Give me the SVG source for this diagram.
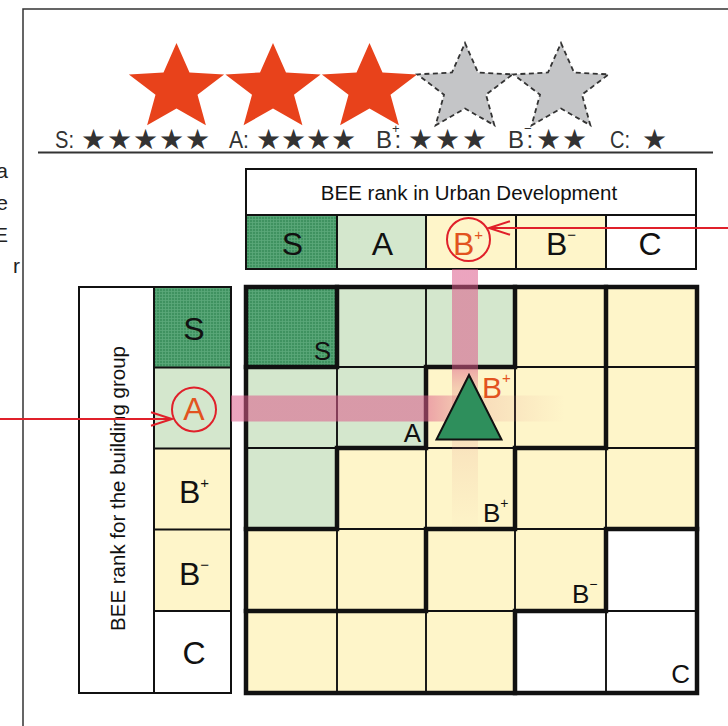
<svg xmlns="http://www.w3.org/2000/svg" width="728" height="726" viewBox="0 0 728 726">
<defs>
<style>
.f{font-family:"Liberation Sans",Arial,sans-serif}
.sym{font-family:"DejaVu Sans",sans-serif}
.dg{fill:url(#tex)}
.lg{fill:#d4e7cd}
.ye{fill:#fef5c9}
.wh{fill:#ffffff}
.cellline{stroke:#111;stroke-width:1.9;fill:none}
.thick{stroke:#111;stroke-width:4.5;fill:none;stroke-linecap:square;stroke-linejoin:miter}
.red{stroke:#e0202a;stroke-width:2;fill:none}
.rank{font-size:32px;fill:#111;text-anchor:middle}
.lbl{font-size:26px;fill:#111}
.leg{font-size:24px;fill:#333}
.legstar{font-size:28px;fill:#333}
.frag{font-size:21px;fill:#222;text-anchor:end}
</style>
<pattern id="tex" width="3" height="3" patternUnits="userSpaceOnUse">
<rect width="3" height="3" fill="#3f9260"/>
<rect width="3" height="0.8" fill="#5ba97a"/>
<rect width="0.8" height="3" fill="#5ba97a"/>
</pattern>
<polygon id="star" points="0,-45.5 13,-16 47.6,-14.1 21,6.2 29.4,36.8 0,20 -29.4,36.8 -21,6.2 -47.6,-14.1 -13,-16"/>
<linearGradient id="hband" gradientUnits="userSpaceOnUse" x1="231" y1="0" x2="565" y2="0">
<stop offset="0" stop-color="#dc5a8a" stop-opacity="0.55"/>
<stop offset="0.58" stop-color="#dc5a8a" stop-opacity="0.55"/>
<stop offset="0.75" stop-color="#e07a80" stop-opacity="0.2"/>
<stop offset="1" stop-color="#e08a80" stop-opacity="0"/>
</linearGradient>
<linearGradient id="vband" gradientUnits="userSpaceOnUse" x1="0" y1="269" x2="0" y2="535">
<stop offset="0" stop-color="#dc5a8a" stop-opacity="0.55"/>
<stop offset="0.36" stop-color="#dc5a8a" stop-opacity="0.55"/>
<stop offset="0.45" stop-color="#e07a80" stop-opacity="0.32"/>
<stop offset="0.7" stop-color="#e08a80" stop-opacity="0.14"/>
<stop offset="1" stop-color="#e08a80" stop-opacity="0"/>
</linearGradient>
<marker id="chev" markerUnits="userSpaceOnUse" markerWidth="30" markerHeight="20" viewBox="-25 -10 30 20" refX="0" refY="0" orient="auto" overflow="visible">
<path d="M-21,-6.7 L0,0 L-21,6.7" fill="none" stroke="#e0202a" stroke-width="2"/>
</marker>
</defs>

<rect width="728" height="726" fill="#ffffff"/>

<g id="frame">
<path d="M23,726 V9 H728" fill="none" stroke="#333" stroke-width="1.5"/>
</g>

<g id="side-fragments" class="f">
<text class="frag" x="8" y="178">a</text>
<text class="frag" x="8" y="210">e</text>
<text class="frag" x="8" y="242">E</text>
<text class="frag" x="20" y="273">r</text>
</g>

<g id="big-stars">
<use href="#star" x="176.5" y="88.5" fill="#e8421b"/>
<use href="#star" x="273" y="88.5" fill="#e8421b"/>
<use href="#star" x="369.5" y="88.5" fill="#e8421b"/>
<use href="#star" x="465" y="88.5" fill="#c4c5c7" stroke="#333" stroke-width="1.8" stroke-dasharray="5 3.5"/>
<use href="#star" x="561" y="88.5" fill="#c4c5c7" stroke="#333" stroke-width="1.8" stroke-dasharray="5 3.5"/>
</g>

<g id="legend">
<text class="f leg" x="55" y="148" textLength="19" lengthAdjust="spacingAndGlyphs">S:</text>
<text class="sym legstar" x="81 107 133 159 185" y="149">★★★★★</text>
<text class="f leg" x="229" y="148" textLength="20" lengthAdjust="spacingAndGlyphs">A:</text>
<text class="sym legstar" x="256 281 306 331" y="149">★★★★</text>
<text class="f leg" x="376" y="148">B<tspan font-size="13" dy="-15">+</tspan><tspan dx="-5" dy="15">:</tspan></text>
<text class="sym legstar" x="408 435 462" y="149">★★★</text>
<text class="f leg" x="508" y="148">B<tspan font-size="13" dy="-15">−</tspan><tspan dx="-5" dy="15">:</tspan></text>
<text class="sym legstar" x="536 562" y="149">★★</text>
<text class="f leg" x="610" y="148" textLength="20" lengthAdjust="spacingAndGlyphs">C:</text>
<text class="sym legstar" x="642" y="149">★</text>
<line x1="38" y1="152.5" x2="713" y2="152.5" stroke="#333" stroke-width="2"/>
</g>

<g id="header-urban">
<rect x="246" y="169" width="450" height="100" fill="#fff" stroke="#111" stroke-width="2"/>
<text class="f" x="469" y="200" font-size="20.5" text-anchor="middle" fill="#111">BEE rank in Urban Development</text>
<rect class="dg" x="247" y="215" width="90" height="54"/>
<rect class="lg" x="337" y="215" width="89" height="54"/>
<rect class="ye" x="426" y="215" width="90" height="54"/>
<rect class="ye" x="516" y="215" width="90" height="54"/>
<path d="M246,215 H696 M337,215 V269 M426,215 V269 M516,215 V269 M606,215 V269" stroke="#111" stroke-width="2" fill="none"/>
<rect x="246" y="169" width="450" height="100" fill="none" stroke="#111" stroke-width="2"/>
</g>
<g id="header-S"><text class="f rank" x="292.5" y="255">S</text></g>
<g id="header-A"><text class="f rank" x="382.5" y="255">A</text></g>
<g id="header-Bplus"><text class="f rank" x="468" y="255" style="fill:#e2531f">B<tspan font-size="15" dy="-15">+</tspan></text></g>
<g id="header-Bminus"><text class="f rank" x="561" y="255">B<tspan font-size="15" dy="-15">−</tspan></text></g>
<g id="header-C"><text class="f rank" x="650" y="255">C</text></g>

<g id="side-building">
<rect x="79" y="287" width="75" height="406" fill="#fff" stroke="#111" stroke-width="2"/>
<text class="f" transform="translate(125,488.5) rotate(-90)" font-size="20.5" text-anchor="middle" fill="#111">BEE rank for the building group</text>
<rect class="dg" x="154" y="287" width="77" height="80.5"/>
<rect class="lg" x="154" y="367.5" width="77" height="81"/>
<rect class="ye" x="154" y="448.5" width="77" height="81"/>
<rect class="ye" x="154" y="529.5" width="77" height="81.5"/>
<rect class="wh" x="154" y="611" width="77" height="82"/>
<path d="M154,367.5 H231 M154,448.5 H231 M154,529.5 H231 M154,611 H231" stroke="#111" stroke-width="2" fill="none"/>
<rect x="154" y="287" width="77" height="406" fill="none" stroke="#111" stroke-width="2"/>
</g>
<g id="side-S"><text class="f rank" x="194" y="340">S</text></g>
<g id="side-A"><text class="f rank" x="194" y="420" style="fill:#e2531f">A</text></g>
<g id="side-Bplus"><text class="f rank" x="194" y="503">B<tspan font-size="15" dy="-15">+</tspan></text></g>
<g id="side-Bminus"><text class="f rank" x="194" y="585">B<tspan font-size="15" dy="-15">−</tspan></text></g>
<g id="side-C"><text class="f rank" x="194" y="664">C</text></g>

<g id="matrix">
<rect class="ye" x="246" y="287" width="451" height="406"/>
<rect class="dg" x="246" y="287" width="91" height="80"/>
<rect class="lg" x="337" y="287" width="178" height="80"/>
<rect class="lg" x="246" y="367" width="180" height="81"/>
<rect class="lg" x="246" y="448" width="91" height="81"/>
<rect class="wh" x="606" y="529" width="91" height="82"/>
<rect class="wh" x="515" y="611" width="182" height="82"/>
<path class="cellline" d="M337,287 V693 M426,287 V693 M515,287 V693 M606,287 V693 M246,367 H697 M246,448 H697 M246,529 H697 M246,611 H697"/>
<path class="thick" d="M337,287 V367 H246"/>
<path class="thick" d="M515,287 V367 H426 V448 H337 V529 H246"/>
<path class="thick" d="M606,287 V448 H515 V529 H426 V611 H246"/>
<path class="thick" d="M697,529 H606 V611 H515 V693"/>
<rect class="thick" x="246" y="287" width="451" height="406"/>
<rect x="231" y="395.5" width="334" height="26" fill="url(#hband)"/>
<rect x="452" y="269" width="26" height="266" fill="url(#vband)"/>
</g>

<g id="label-S"><text class="f lbl" x="331" y="360" text-anchor="end">S</text></g>
<g id="label-A"><text class="f lbl" x="421" y="442" text-anchor="end">A</text></g>
<g id="label-Bplus"><text class="f lbl" x="483" y="522">B<tspan font-size="14" dy="-14">+</tspan></text></g>
<g id="label-Bminus"><text class="f lbl" x="572" y="603">B<tspan font-size="14" dy="-14">−</tspan></text></g>
<g id="label-C"><text class="f lbl" x="690" y="683" text-anchor="end">C</text></g>

<g id="result">
<polygon points="469,375 436.5,439.5 501.5,439.5" fill="#2e8f5c" stroke="#111" stroke-width="2" stroke-linejoin="miter"/>
<text class="f" x="482" y="398" font-size="30" fill="#e2531f">B<tspan font-size="15" dy="-15">+</tspan></text>
</g>

<g id="connectors">
<circle class="red" cx="468.5" cy="239.5" r="21.5"/>
<circle class="red" cx="194" cy="409.5" r="22"/>
<line class="red" x1="728" y1="228" x2="489" y2="228" marker-end="url(#chev)"/>
<line class="red" x1="0" y1="419" x2="172" y2="419" marker-end="url(#chev)"/>
</g>
</svg>
